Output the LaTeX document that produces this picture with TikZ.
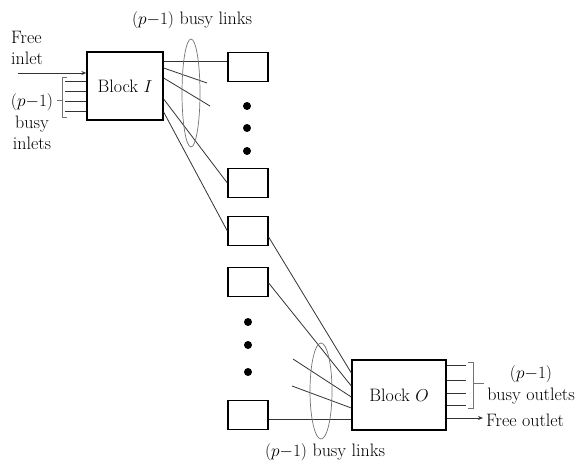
\documentclass[tikz,border=0pt]{standalone}
\usetikzlibrary{arrows.meta,shapes.geometric}
\begin{document}
\begin{tikzpicture}[x=1pt,y=-1pt,
  every node/.style={font=\fontsize{18}{21.5}\selectfont, inner sep=0pt},
  blockbox/.style={draw, line width=1.3pt, minimum width=#1, minimum height=68pt},
  smallbox/.style={draw, line width=1.3pt, minimum width=40pt, minimum height=29pt},
  link/.style={draw=black!80, line width=0.8pt},
  grp/.style={draw=black!55, line width=0.7pt},
  dotc/.style={fill=black, draw=none, circle, minimum size=8pt},
  lbl/.style={align=center}
]
\useasboundingbox (0,0) rectangle (581,464);

% blocks
\node[blockbox=76pt] (BI) at (125,86) {Block $I$};
\node[blockbox=94pt, minimum height=70pt] (BO) at (399,395) {Block $O$};

% small boxes
\node[smallbox] (s1) at (248,67) {};
\node[smallbox] (s2) at (248,183) {};
\node[smallbox] (s3) at (248,231) {};
\node[smallbox] (s4) at (248,282) {};
\node[smallbox] (s5) at (248,415) {};

% dots
\foreach \y/\n in {106/a,128/b,151/c} \node[dotc] (u\n) at (247,\y) {};
\foreach \y/\n in {322/a,345/b,372/c} \node[dotc] (l\n) at (248,\y) {};

% free ends of short links
\coordinate (e1) at (207,83);
\coordinate (e2) at (210,106);
\coordinate (f1) at (293,359);
\coordinate (f2) at (292,386);

% links from Block I
\draw[link] (BI.east |- 0,61) -- (s1.west |- 0,61);
\draw[link] (BI.east |- 0,68) -- (e1);
\draw[link] (BI.east |- 0,78) -- (e2);
\draw[link] (BI.east |- 0,99) -- (s2.west);
\draw[link] (BI.east |- 0,112) -- (s3.west);

% links into Block O
\draw[link] (s3.east |- 0,237) -- (BO.west |- 0,373);
\draw[link] (s4.east |- 0,283) -- (BO.west |- 0,386);
\draw[link] (f1) -- (BO.west |- 0,397);
\draw[link] (f2) -- (BO.west |- 0,408);
\draw[link] (s5.east |- 0,419) -- (BO.west |- 0,419);

% group ellipses
\node[grp, ellipse, minimum width=18pt, minimum height=108pt] (g1) at (191,93) {};
\node[grp, ellipse, minimum width=22pt, minimum height=96pt] (g2) at (321,391) {};

% inlets
\coordinate (fin) at (18,73);
\draw[link, -{Stealth[length=5pt,width=4pt]}] (fin) -- (BI.west |- 0,73);
\foreach \y in {81,91,101,111} {
  \coordinate (bi\y) at (65,\y);
  \draw[link] (bi\y) -- (BI.west |- 0,\y);
}
\draw[grp] (67,77) -- (62,77) -- (62,117) -- (67,117);
\draw[grp] (62,100) -- (57,100);

% outlets
\foreach \y in {365,380,393,405} {
  \coordinate (bo\y) at (466,\y);
  \draw[link] (BO.east |- 0,\y) -- (bo\y);
}
\draw[grp] (468,362) -- (473,362) -- (473,408) -- (468,408);
\draw[grp] (473,383) -- (484,383);
\coordinate (fout) at (483,418);
\draw[link, -{Stealth[length=5pt,width=4pt]}] (BO.east |- 0,418) -- (fout);

% labels
\node (t1) at (192,20) {$(p{-}1)$ busy links};
\node (t2) at (325,452) {$(p{-}1)$ busy links};
\node[lbl, align=left, anchor=west] (t3) at (11,48) {Free\\inlet};
\node[lbl] (t4) at (32,122) {$(p{-}1)$\\busy\\inlets};
\node[lbl] (t5) at (531,385) {$(p{-}1)$\\busy outlets};
\node[anchor=west] (t6) at (486,420) {Free outlet};
\end{tikzpicture}
\end{document}
